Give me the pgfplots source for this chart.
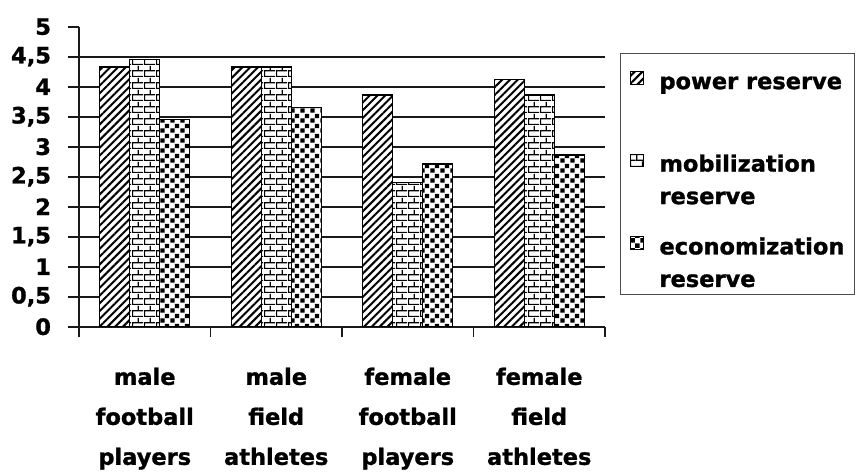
\documentclass[border=0pt]{standalone}
\usepackage{pgfplots}
\pgfplotsset{compat=1.18}
\usepackage{fontspec}
\setmainfont{DejaVu Sans}[BoldFeatures={FakeBold=1.2}]
\usetikzlibrary{patterns,patterns.meta}

% checkerboard fill
\pgfdeclarepatternformonly{checks}{\pgfpointorigin}{\pgfqpoint{10pt}{10pt}}{\pgfqpoint{10pt}{10pt}}{%
  \pgfpathrectangle{\pgfqpoint{0.4pt}{0.4pt}}{\pgfqpoint{4.6pt}{4.6pt}}%
  \pgfpathrectangle{\pgfqpoint{5.4pt}{5.4pt}}{\pgfqpoint{4.6pt}{4.6pt}}%
  \pgfusepath{fill}}

% brick wall fill
\pgfdeclarepatternformonly{brickwall}{\pgfpointorigin}{\pgfqpoint{12pt}{12pt}}{\pgfqpoint{12pt}{12pt}}{%
  \pgfsetlinewidth{1.3pt}%
  \pgfpathmoveto{\pgfqpoint{0pt}{0.65pt}}\pgfpathlineto{\pgfqpoint{12pt}{0.65pt}}%
  \pgfpathmoveto{\pgfqpoint{0pt}{6.65pt}}\pgfpathlineto{\pgfqpoint{12pt}{6.65pt}}%
  \pgfpathmoveto{\pgfqpoint{0.65pt}{0pt}}\pgfpathlineto{\pgfqpoint{0.65pt}{6.65pt}}%
  \pgfpathmoveto{\pgfqpoint{6.65pt}{6.65pt}}\pgfpathlineto{\pgfqpoint{6.65pt}{12pt}}%
  \pgfusepath{stroke}}

\newcommand{\chartfont}{\fontsize{22.5}{40}\selectfont\bfseries}
% two-line legend text, baseline on the first line
\newcommand{\twolines}[2]{\vtop{\hbox{#1}\hbox{#2}}}

\begin{document}
\begin{tikzpicture}
\useasboundingbox (0,0) rectangle (859pt,473pt);
\begin{axis}[
  at={(79pt,146.3pt)}, anchor=south west,
  scale only axis, width=526pt, height=300pt,
  xmin=-0.5, xmax=3.5, ymin=0, ymax=5,
  ybar=0pt, bar width=30pt,
  axis x line=bottom, axis y line=left,
  axis line style={-, line width=1.7pt, black!90},
  xtick={-0.5,0.5,1.5,2.5,3.5},
  x tick label as interval,
  xticklabels={{male\\football\\players},{male\\field\\athletes},{female\\football\\players},{female\\field\\athletes}},
  xticklabel style={align=center, font=\chartfont, yshift=-27pt},
  ytick={0,0.5,1,1.5,2,2.5,3,3.5,4,4.5,5},
  yticklabels={0,{0,5},1,{1,5},2,{2,5},3,{3,5},4,{4,5},5},
  yticklabel style={font=\chartfont, xshift=-14pt},
  major tick length=10.5pt, tick align=outside,
  tick style={line width=1.7pt, black!90},
  extra y ticks={0.5,1,1.5,2,2.5,3,3.5,4,4.5},
  extra y tick labels={},
  extra y tick style={grid=major, major tick length=0pt},
  grid style={line width=1.7pt, black!90},
  legend style={at={(axis description cs:1.0285,0.912)}, anchor=north west,
    draw=black!70, line width=1pt, font=\fontsize{22.5}{32.5}\selectfont\bfseries,
    row sep=32pt, column sep=15pt, inner xsep=10pt, inner ysep=7.5pt,
    nodes={inner sep=0pt, text depth={}},
    cells={anchor=base west}},
  legend image code/.code={\draw[#1, line width=1pt] (0pt,5pt) rectangle (13pt,17.5pt);},
]
\addplot[draw=black, line width=1.3pt, fill=white,
  postaction={pattern={Lines[angle=45,distance=5.5pt,line width=2pt]}}]
  coordinates {(0,4.33) (1,4.33) (2,3.86) (3,4.12)};
\addlegendentry{\twolines{\rule{0pt}{28pt}power reserve}{}}
\addplot[draw=black, line width=1.3pt, fill=white, postaction={pattern=brickwall}]
  coordinates {(0,4.45) (1,4.33) (2,2.40) (3,3.86)};
\addlegendentry{\twolines{mobilization}{reserve}}
\addplot[draw=black, line width=1.3pt, fill=white, postaction={pattern=checks}]
  coordinates {(0,3.45) (1,3.65) (2,2.71) (3,2.86)};
\addlegendentry{\twolines{economization}{reserve}}
\end{axis}
\end{tikzpicture}
\end{document}
